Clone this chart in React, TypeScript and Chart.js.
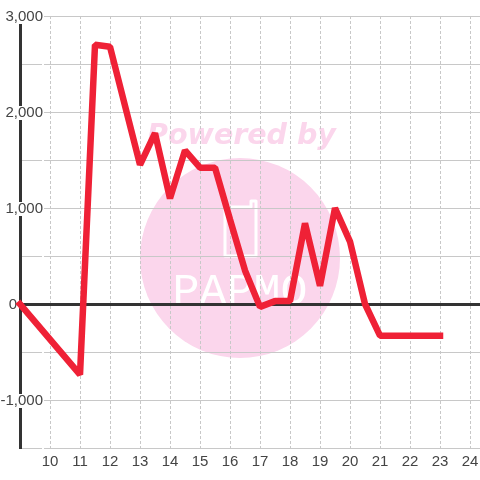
import React, { useEffect, useRef } from "react";
import { Chart, registerables } from "chart.js";

Chart.register(...registerables);

const xValues = [9, 11, 11.5, 12, 13, 13.5, 14, 14.5, 15, 15.5, 16, 16.5, 17, 17.5, 18, 18.5, 19, 19.5, 20, 20.5, 21, 22, 23];
const yValues = [0, -735, 2700, 2680, 1450, 1780, 1100, 1600, 1420, 1420, 880, 350, -30, 30, 30, 840, 190, 1000, 650, 0, -330, -330, -330];
const xTicks = [10, 11, 12, 13, 14, 15, 16, 17, 18, 19, 20, 21, 22, 23, 24];

const watermark = {
  id: "watermark",
  beforeDraw(chart: any) {
    const c = chart.ctx;
    c.save();
    c.fillStyle = "#fbd6ec";
    c.beginPath();
    c.arc(240, 258, 100, 0, Math.PI * 2);
    c.fill();
    c.font = "italic bold 28.5px 'DejaVu Sans'";
    c.textAlign = "center";
    c.textBaseline = "alphabetic";
    c.fillText("Powered by", 241.5, 144);
    c.strokeStyle = "#ffffff";
    c.lineWidth = 3;
    c.lineJoin = "round";
    c.beginPath();
    c.moveTo(225, 207);
    c.lineTo(225, 256);
    c.lineTo(256, 256);
    c.lineTo(256, 201);
    c.lineTo(251, 201);
    c.lineTo(251, 207);
    c.closePath();
    c.stroke();
    c.fillStyle = "#ffffff";
    c.font = "45px 'Liberation Mono'";
    c.fillText("PAPMO", 240, 304);
    c.restore();
  },
};

export default function App() {
  const ref = useRef<HTMLCanvasElement>(null);
  useEffect(() => {
    document.body.style.margin = "0";
    const chart = new Chart(ref.current!, {
      type: "line",
      data: {
        datasets: [
          {
            data: xValues.map((x, i) => ({ x, y: yValues[i] })),
            borderColor: "#ef2136",
            borderWidth: 6.5,
            borderJoinStyle: "bevel",
            borderCapStyle: "square",
            pointRadius: 0,
            tension: 0,
            clip: false,
          },
        ],
      },
      options: {
        animation: false,
        responsive: false,
        layout: { autoPadding: false, padding: { top: 16, right: 0, left: 0, bottom: 0 } },
        plugins: { legend: { display: false }, tooltip: { enabled: false }, title: { display: false } },
        scales: {
          x: {
            type: "linear",
            min: 9,
            max: 24,
            afterDataLimits(s: any) { s.max = 24 + 1 / 3; },
            afterFit(s: any) {
              s.height = 32;
              s.paddingLeft = 0;
              s.paddingRight = 0;
            },
            afterBuildTicks(s: any) {
              s.ticks = xTicks.map((value) => ({ value }));
            },
            grid: {
              color: "#c8c8c8",
              drawTicks: false,
            },
            border: { dash: [3, 2], color: "#c8c8c8", display: false },
            ticks: {
              autoSkip: false,
              maxRotation: 0,
              color: "#444444",
              padding: 5,
              font: { family: "'Liberation Sans'", size: 15 },
              callback: (v: any) => String(v),
            },
          },
          y: {
            min: -1500,
            max: 3000,
            afterFit(s: any) {
              s.width = 20;
              s.paddingTop = 0;
              s.paddingBottom = 0;
              s._computeLabelArea = () => undefined;
              const base = Object.getPrototypeOf(s)._computeLabelItems;
              s._computeLabelItems = function (area: any) {
                const items = base.call(this, area);
                for (const it of items) {
                  it.textOffset += 1;
                  const b = it.options.backdrop;
                  if (b) {
                    b.top = -6;
                    b.height = 14;
                  }
                  if (it.label === "0") {
                    it.options.translation[0] -= 26;
                  }
                }
                return items;
              };
            },
            grid: {
              color: (ctx: any) => (ctx.tick && ctx.tick.value === 0 ? "#333333" : "#c8c8c8"),
              lineWidth: (ctx: any) => (ctx.tick && ctx.tick.value === 0 ? 3 : 1),
              drawTicks: false,
            },
            border: { color: "#333333", width: 3 },
            ticks: {
              stepSize: 500,
              autoSkip: false,
              padding: -23,
              color: "#444444",
              font: { family: "'Liberation Sans'", size: 15 },
              showLabelBackdrop: true,
              backdropColor: "#ffffff",
              backdropPadding: 1,
              callback: (v: any) => (v % 1000 === 0 ? Number(v).toLocaleString("en-US") : ""),
            },
          },
        },
      },
      plugins: [watermark],
    } as any);
    return () => chart.destroy();
  }, []);
  return <canvas ref={ref} width={480} height={480} style={{ display: "block" }} />;
}
